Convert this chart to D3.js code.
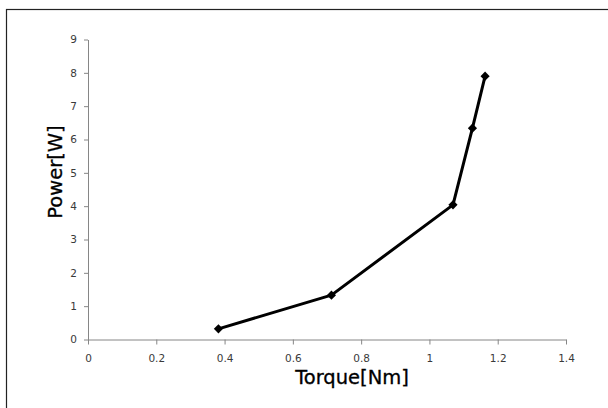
<!DOCTYPE html>
<html>
<head>
<meta charset="utf-8">
<script src="https://cdn.jsdelivr.net/npm/d3@7"></script>
<style>
  body { margin: 0; background: #fff; }
  svg { display: block; }
</style>
</head>
<body>
<div id="chart"></div>
<script>
// data
var torque = [0.382, 0.713, 1.069, 1.126, 1.163];
var power = [0.32, 1.33, 4.04, 6.34, 7.9];
var xTicks = [0, 0.2, 0.4, 0.6, 0.8, 1, 1.2, 1.4];
var yTicks = [0, 1, 2, 3, 4, 5, 6, 7, 8, 9];

var W = 608, H = 408;
var m = {t: 39.5, l: 88, w: 478, h: 300};

var svg = d3.select('#chart').append('svg')
    .attr('width', W).attr('height', H);

// outer frame (only top and left edges show)
svg.append('rect')
    .attr('x', 6.5).attr('y', 9.5)
    .attr('width', W + 20).attr('height', H + 20)
    .style('fill', 'none').style('stroke', '#222').style('stroke-width', 1.2);

var plot = svg.append('g').attr('transform', 'translate(' + m.l + ',' + m.t + ')');

var scaleX = d3.scaleLinear().domain([0, 1.4]).range([0, m.w]);
var scaleY = d3.scaleLinear().domain([0, 9]).range([m.h, 0]);

var axisX = d3.axisBottom(scaleX).tickValues(xTicks)
    .tickFormat(function(d){ return d3.format('')(d); })
    .tickSizeInner(5).tickSizeOuter(0).tickPadding(10);
var axisY = d3.axisLeft(scaleY).tickValues(yTicks)
    .tickSizeInner(4).tickSizeOuter(0).tickPadding(7);

var gx = plot.append('g').attr('transform', 'translate(0,' + m.h + ')').call(axisX);
var gy = plot.append('g').call(axisY);

[gx, gy].forEach(function(g){
  g.select('.domain').style('stroke', '#868686');
  g.selectAll('.tick line').style('stroke', '#868686');
  g.selectAll('.tick text')
    .style('font-family', '"DejaVu Sans", Verdana, sans-serif')
    .style('font-size', '10.5px')
    .style('fill', '#3a3a3a');
});

// series line
var pts = torque.map(function(t, i){ return [t, power[i]]; });
var line = d3.line()
    .x(function(d){ return scaleX(d[0]); })
    .y(function(d){ return scaleY(d[1]); });

plot.append('path').datum(pts)
    .attr('d', line)
    .style('fill', 'none').style('stroke', '#000').style('stroke-width', 3)
    .style('stroke-linejoin', 'round');

plot.selectAll('.marker').data(pts).enter().append('path')
    .attr('class', 'marker')
    .attr('d', d3.symbol().type(d3.symbolSquare).size(42))
    .attr('transform', function(d){
      return 'translate(' + scaleX(d[0]) + ',' + scaleY(d[1]) + ') rotate(45)';
    })
    .style('fill', '#000');

// axis titles
svg.append('text')
    .attr('x', 352).attr('y', 384)
    .attr('text-anchor', 'middle')
    .style('font-family', '"DejaVu Sans", sans-serif')
    .style('font-size', '19.5px')
    .style('stroke', '#000').style('stroke-width', 0.3)
    .text('Torque[Nm]');

svg.append('text')
    .attr('transform', 'translate(62,' + 172 + ') rotate(-90)')
    .attr('text-anchor', 'middle')
    .style('font-family', '"DejaVu Sans", sans-serif')
    .style('font-size', '19.5px')
    .style('stroke', '#000').style('stroke-width', 0.3)
    .text('Power[W]');
</script>
</body>
</html>
